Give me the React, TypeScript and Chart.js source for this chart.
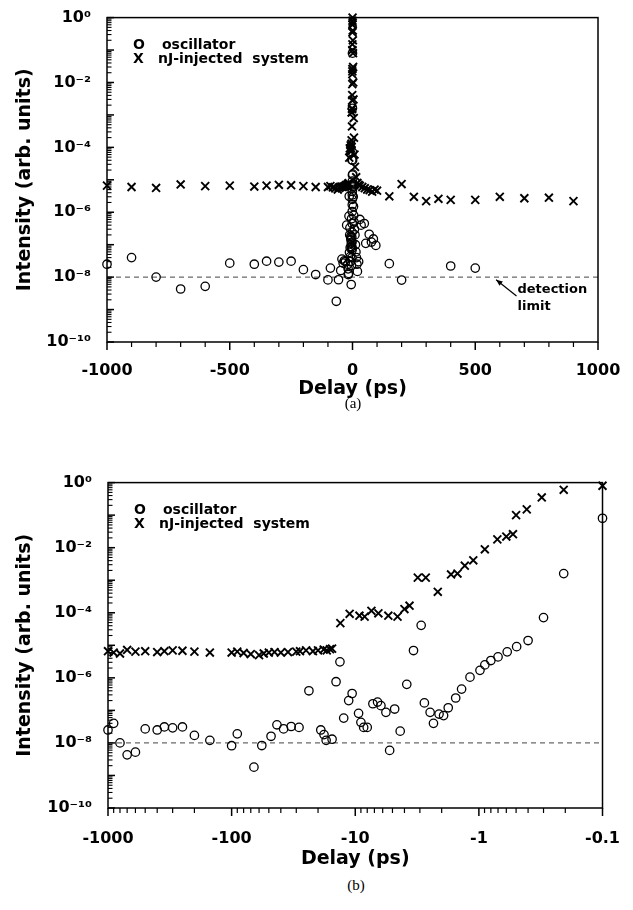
import React, { useEffect, useRef } from "react";
import { Chart, registerables } from "chart.js";
Chart.register(...registerables);

// ---------- data ----------
const DETECTION_LIMIT = 1e-8;

// negative delays (magnitude, ps) — shared by panels (a) and (b)
const OSC_NEG_DELAY = [1000, 900, 800, 700, 600, 500, 400, 350, 300, 250, 200, 150, 100, 90, 66, 57, 48, 43, 38, 33, 28.5, 23.7, 19.0, 17.9, 17.2, 15.4, 14.3, 13.3, 12.4, 11.3, 10.6, 9.4, 9.0, 8.55, 8.0, 7.2, 6.6, 6.2, 5.65, 5.27, 4.8, 4.33, 3.83, 3.38, 2.93, 2.76, 2.48, 2.33, 2.1, 1.93, 1.77, 1.54, 1.38, 1.18, 0.98, 0.895, 0.8, 0.7, 0.59, 0.495, 0.4, 0.3, 0.206, 0.1];
const OSC_NEG_INT = [2.5e-8, 4.0e-8, 1.0e-8, 4.3e-9, 5.2e-9, 2.7e-8, 2.5e-8, 3.1e-8, 2.9e-8, 3.1e-8, 1.7e-8, 1.2e-8, 8.2e-9, 1.9e-8, 1.8e-9, 8.3e-9, 1.6e-8, 3.6e-8, 2.7e-8, 3.2e-8, 3.0e-8, 4.0e-7, 2.5e-8, 1.8e-8, 1.2e-8, 1.3e-8, 7.6e-7, 3.1e-6, 5.8e-8, 2.0e-7, 3.3e-7, 8.1e-8, 4.3e-8, 3.0e-8, 3.0e-8, 1.6e-7, 1.8e-7, 1.4e-7, 8.7e-8, 5.9e-9, 1.1e-7, 2.3e-8, 6.3e-7, 6.9e-6, 4.1e-5, 1.7e-7, 8.7e-8, 4.0e-8, 7.7e-8, 6.9e-8, 1.2e-7, 2.4e-7, 4.5e-7, 1.05e-6, 1.7e-6, 2.5e-6, 3.4e-6, 4.4e-6, 6.3e-6, 9.1e-6, 1.4e-5, 7.1e-5, 1.6e-3, 8.0e-2];

const NJ_NEG_DELAY = [1000, 900, 800, 700, 600, 500, 400, 350, 300, 250, 200, 150, 100, 90, 80, 70, 60, 55, 50, 45, 40, 35, 30, 28, 25, 22, 20, 18, 17, 16, 15.4, 13.2, 11.1, 9.25, 8.4, 7.4, 6.5, 5.4, 4.55, 4.0, 3.64, 3.12, 2.69, 2.15, 1.68, 1.49, 1.3, 1.11, 0.895, 0.709, 0.6, 0.53, 0.5, 0.41, 0.31, 0.206, 0.1];
const NJ_NEG_INT = [6.6e-6, 6.0e-6, 5.6e-6, 7.2e-6, 6.4e-6, 6.6e-6, 6.2e-6, 6.6e-6, 7.0e-6, 6.8e-6, 6.4e-6, 6.0e-6, 6.0e-6, 6.4e-6, 5.8e-6, 5.4e-6, 5.0e-6, 5.6e-6, 6.0e-6, 6.2e-6, 6.0e-6, 6.2e-6, 6.4e-6, 6.6e-6, 7.0e-6, 6.6e-6, 7.0e-6, 7.4e-6, 7.0e-6, 7.6e-6, 7.9e-6, 4.8e-5, 9.3e-5, 8.1e-5, 7.6e-5, 1.15e-4, 9.6e-5, 8.1e-5, 7.6e-5, 1.3e-4, 1.65e-4, 1.2e-3, 1.2e-3, 4.4e-4, 1.5e-3, 1.6e-3, 2.8e-3, 4.1e-3, 8.9e-3, 1.8e-2, 2.2e-2, 2.6e-2, 0.10, 0.15, 0.35, 0.6, 0.8];

// positive delays (ps) — panel (a) only
const OSC_POS_DELAY = [0.5, 1, 2, 3, 4, 5, 6, 8, 10, 12, 14, 16, 18, 20, 25, 30, 35, 48, 54, 68, 77, 85, 95, 150, 200, 400, 500];
const OSC_POS_INT = [4e-5, 1.5e-5, 6e-6, 3e-6, 1.5e-6, 8e-7, 5e-7, 3e-7, 2e-7, 1e-7, 6e-8, 4e-8, 2.5e-8, 1.5e-8, 3e-8, 6e-7, 4e-7, 4.5e-7, 1.1e-7, 2.1e-7, 1.2e-7, 1.5e-7, 9.5e-8, 2.6e-8, 8.1e-9, 2.2e-8, 1.9e-8];

const NJ_POS_DELAY = [0.3, 0.6, 1, 1.5, 2, 2.5, 3, 4, 5, 6, 8, 10, 15, 20, 25, 30, 40, 50, 60, 70, 80, 90, 100, 150, 200, 250, 300, 350, 400, 500, 600, 700, 800, 900];
const NJ_POS_INT = [1.0, 0.7, 0.4, 0.2, 0.08, 0.03, 0.01, 3e-3, 8e-4, 2e-4, 6e-5, 2.5e-5, 1.2e-5, 8e-6, 7e-6, 6.5e-6, 6e-6, 5.5e-6, 5e-6, 4.8e-6, 4.3e-6, 5e-6, 4.6e-6, 3.1e-6, 7.4e-6, 3.0e-6, 2.2e-6, 2.6e-6, 2.4e-6, 2.4e-6, 3.0e-6, 2.7e-6, 2.8e-6, 2.2e-6];

// axes / labels
const Y_MIN = 1e-10;
const Y_MAX = 1;
const Y_TICK_EXPONENTS = [0, -2, -4, -6, -8, -10];
const X_A_TICK_LABELS = [-1000, -500, 0, 500, 1000];
const X_B_TICK_LABELS = [1000, 100, 10, 1, 0.1]; // shown as negative delays
const LEGEND_MARKS = ["O", "X"];
const LEGEND_TEXTS = ["oscillator", "nJ-injected  system"];
const SERIES_NAMES = ["oscillator", "nJ-injected system", "detection limit"];
const ANNOTATION_LINES = ["detection", "limit"];

// ---------- helpers ----------
const SUP: Record<string, string> = { "0": "⁰", "1": "¹", "2": "²", "3": "³", "4": "⁴", "5": "⁵", "6": "⁶", "7": "⁷", "8": "⁸", "9": "⁹", "-": "⁻" };
const sup = (n: number) => String(n).split("").map((c) => SUP[c] || c).join("");
const isDecade = (v: number) => {
  const l = Math.log10(v);
  return Math.abs(l - Math.round(l)) < 1e-6;
};
const isIntMantissa = (v: number) => {
  const e = Math.floor(Math.log10(v) + 1e-9);
  const m = v / Math.pow(10, e);
  return Math.abs(m - Math.round(m)) < 1e-6;
};

const FONT = "DejaVu Sans";

function makeDecor(opts: { majorX: (v: number) => boolean; logX: boolean; annotate: boolean }) {
  return {
    id: "decor",
    afterDraw(chart: any) {
      const { ctx, chartArea: a } = chart;
      ctx.save();
      ctx.strokeStyle = "#000";
      ctx.fillStyle = "#000";
      ctx.lineWidth = 1.5;
      ctx.strokeRect(a.left, a.top, a.right - a.left, a.bottom - a.top);
      // y ticks (inward)
      const ys = chart.scales.y;
      ys.ticks.forEach((t: any) => {
        if (!isIntMantissa(t.value)) return;
        const p = ys.getPixelForValue(t.value);
        const major = isDecade(t.value);
        ctx.lineWidth = major ? 1.5 : 1.1;
        ctx.beginPath();
        ctx.moveTo(a.left, p);
        ctx.lineTo(a.left + (major ? 7 : 4.5), p);
        ctx.stroke();
      });
      // x ticks (outward)
      const xs = chart.scales.x;
      xs.ticks.forEach((t: any) => {
        if (opts.logX && !isIntMantissa(t.value)) return;
        const p = xs.getPixelForValue(t.value);
        const major = opts.majorX(t.value);
        ctx.lineWidth = major ? 1.5 : 1.2;
        ctx.beginPath();
        ctx.moveTo(p, a.bottom);
        ctx.lineTo(p, a.bottom + (major ? 8 : 5));
        ctx.stroke();
      });
      // legend
      ctx.font = `bold 14px "${FONT}"`;
      ctx.textBaseline = "middle";
      ctx.textAlign = "left";
      LEGEND_MARKS.forEach((m, i) => {
        const y = a.top + 28 + i * 14;
        ctx.fillText(m, a.left + 26, y);
        ctx.fillText(LEGEND_TEXTS[i], a.left + (i === 0 ? 55 : 51), y);
      });
      // annotation
      if (opts.annotate) {
        ctx.font = `bold 13px "${FONT}"`;
        const tx = xs.getPixelForValue(672);
        ctx.fillText(ANNOTATION_LINES[0], tx, ys.getPixelForValue(Math.pow(10, -8.4)));
        ctx.fillText(ANNOTATION_LINES[1], tx, ys.getPixelForValue(Math.pow(10, -8.9)));
        const x0 = xs.getPixelForValue(668), y0 = ys.getPixelForValue(Math.pow(10, -8.58));
        const x1 = xs.getPixelForValue(585), y1 = ys.getPixelForValue(Math.pow(10, -8.08));
        ctx.lineWidth = 1.2;
        ctx.beginPath();
        ctx.moveTo(x0, y0);
        ctx.lineTo(x1, y1);
        ctx.stroke();
        const ang = Math.atan2(y0 - y1, x0 - x1);
        const L = 7;
        ctx.beginPath();
        ctx.moveTo(x1, y1);
        ctx.lineTo(x1 + L * Math.cos(ang - 0.4), y1 + L * Math.sin(ang - 0.4));
        ctx.lineTo(x1 + L * Math.cos(ang + 0.4), y1 + L * Math.sin(ang + 0.4));
        ctx.closePath();
        ctx.fill();
      }
      ctx.restore();
    },
  };
}

function yScale(width: number) {
  return {
    type: "logarithmic",
    min: Y_MIN,
    max: Y_MAX,
    afterFit: (s: any) => {
      s.width = width;
    },
    grid: { display: false },
    border: { display: false },
    ticks: {
      autoSkip: false,
      padding: 8,
      color: "#000",
      font: { family: FONT, weight: "bold", size: 16 },
      callback: (v: any) => {
        const val = Number(v);
        if (!isDecade(val)) return "";
        const e = Math.round(Math.log10(val));
        return Y_TICK_EXPONENTS.includes(e) ? "10" + sup(e) : "";
      },
    },
    title: {
      display: true,
      text: "Intensity (arb. units)",
      color: "#000",
      font: { family: FONT, weight: "bold", size: 19 },
      padding: { top: 14, bottom: 0 },
    },
  };
}

const xTitle = {
  display: true,
  text: "Delay (ps)",
  color: "#000",
  font: { family: FONT, weight: "bold", size: 19 },
  padding: { top: 0, bottom: 0 },
};

const circleStyle = {
  pointStyle: "circle",
  pointRadius: 4.2,
  pointBorderWidth: 1.3,
  pointBorderColor: "#000",
  pointBackgroundColor: "rgba(0,0,0,0)",
  showLine: false,
  clip: false,
};
const crossStyle = {
  pointStyle: "crossRot",
  pointRadius: 5.6,
  pointBorderWidth: 1.9,
  pointBorderColor: "#000",
  pointBackgroundColor: "#000",
  showLine: false,
  clip: false,
};
const dashStyle = {
  showLine: true,
  pointRadius: 0,
  borderColor: "#444",
  borderWidth: 1,
  borderDash: [5, 4],
};

function buildA(canvas: HTMLCanvasElement) {
  const osc = [
    ...OSC_NEG_DELAY.map((d, i) => ({ x: -d, y: OSC_NEG_INT[i] })),
    ...OSC_POS_DELAY.map((d, i) => ({ x: d, y: OSC_POS_INT[i] })),
  ];
  const nj = [
    ...NJ_NEG_DELAY.map((d, i) => ({ x: -d, y: NJ_NEG_INT[i] })),
    ...NJ_POS_DELAY.map((d, i) => ({ x: d, y: NJ_POS_INT[i] })),
  ];
  return new Chart(canvas, {
    type: "scatter",
    data: {
      datasets: [
        { label: SERIES_NAMES[2], data: [{ x: -1000, y: DETECTION_LIMIT }, { x: 1000, y: DETECTION_LIMIT }], order: 3, ...dashStyle } as any,
        { label: SERIES_NAMES[0], data: osc, order: 2, ...circleStyle } as any,
        { label: SERIES_NAMES[1], data: nj, order: 1, ...crossStyle } as any,
      ],
    },
    options: {
      responsive: false,
      animation: false,
      events: [],
      layout: { padding: { top: 15, right: 35, left: 0, bottom: 0 } },
      plugins: { legend: { display: false }, tooltip: { enabled: false } },
      scales: {
        x: {
          type: "linear",
          min: -1000,
          max: 1000,
          afterFit: (s: any) => {
            s.height = 58;
          },
          grid: { display: false },
          border: { display: false },
          ticks: {
            stepSize: 100,
            autoSkip: false,
            maxRotation: 0,
            padding: 11,
            color: "#000",
            font: { family: FONT, weight: "bold", size: 16 },
            callback: (v: any) => (X_A_TICK_LABELS.includes(Number(v)) ? String(v) : ""),
          },
          title: xTitle,
        },
        y: yScale(107),
      } as any,
    },
    plugins: [makeDecor({ majorX: (v) => X_A_TICK_LABELS.includes(v), logX: false, annotate: true })],
  } as any);
}

function buildB(canvas: HTMLCanvasElement) {
  const osc = OSC_NEG_DELAY.map((d, i) => ({ x: d, y: OSC_NEG_INT[i] }));
  const nj = NJ_NEG_DELAY.map((d, i) => ({ x: d, y: NJ_NEG_INT[i] }));
  return new Chart(canvas, {
    type: "scatter",
    data: {
      datasets: [
        { label: SERIES_NAMES[2], data: [{ x: 1000, y: DETECTION_LIMIT }, { x: 0.1, y: DETECTION_LIMIT }], order: 3, ...dashStyle } as any,
        { label: SERIES_NAMES[0], data: osc, order: 2, ...circleStyle } as any,
        { label: SERIES_NAMES[1], data: nj, order: 1, ...crossStyle } as any,
      ],
    },
    options: {
      responsive: false,
      animation: false,
      events: [],
      layout: { padding: { top: 15, right: 28, left: 0, bottom: 0 } },
      plugins: { legend: { display: false }, tooltip: { enabled: false } },
      scales: {
        x: {
          type: "logarithmic",
          min: 0.1,
          max: 1000,
          reverse: true,
          afterFit: (s: any) => {
            s.height = 62;
          },
          grid: { display: false },
          border: { display: false },
          ticks: {
            autoSkip: false,
            maxRotation: 0,
            padding: 13,
            color: "#000",
            font: { family: FONT, weight: "bold", size: 16 },
            callback: (v: any) => {
              const val = Number(v);
              const hit = X_B_TICK_LABELS.find((t) => Math.abs(t - val) < 1e-9 * Math.max(1, t));
              return hit !== undefined ? "-" + String(hit) : "";
            },
          },
          title: xTitle,
        },
        y: yScale(108),
      } as any,
    },
    plugins: [makeDecor({ majorX: (v) => isDecade(v), logX: true, annotate: false })],
  } as any);
}

export default function App() {
  const refA = useRef<HTMLCanvasElement>(null);
  const refB = useRef<HTMLCanvasElement>(null);
  useEffect(() => {
    const a = buildA(refA.current!);
    const b = buildB(refB.current!);
    return () => {
      a.destroy();
      b.destroy();
    };
  }, []);
  const cap: React.CSSProperties = {
    position: "absolute",
    width: 100,
    textAlign: "center",
    fontFamily: '"Liberation Serif", serif',
    fontSize: 15,
    lineHeight: "18px",
    color: "#000",
  };
  return (
    <div style={{ position: "absolute", left: 0, top: 0, width: 633, height: 910, background: "#fff" }}>
      <canvas ref={refA} width={633} height={400} style={{ position: "absolute", left: 0, top: 0, width: 633, height: 400 }} />
      <div style={{ ...cap, left: 303, top: 394 }}>(a)</div>
      <canvas ref={refB} width={633} height={405} style={{ position: "absolute", left: 0, top: 465, width: 633, height: 405 }} />
      <div style={{ ...cap, left: 306, top: 876 }}>(b)</div>
    </div>
  );
}
